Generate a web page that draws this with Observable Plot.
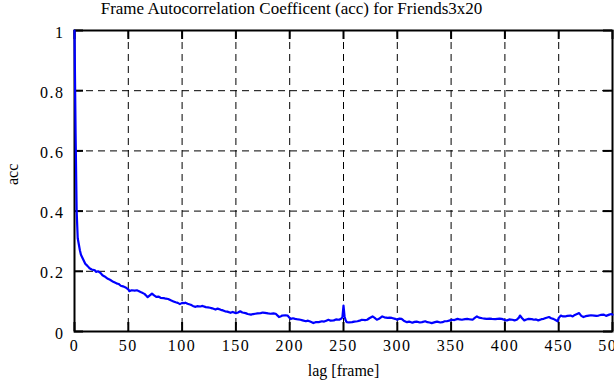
<!DOCTYPE html>
<html><head><meta charset="utf-8">
<script src="https://cdn.jsdelivr.net/npm/d3@7"></script>
<script src="https://cdn.jsdelivr.net/npm/@observablehq/plot@0.6"></script>
<style>
body{margin:0;background:#fff}
#chart svg{font-family:"Liberation Serif",serif}
#chart g[aria-label="x-axis tick label"] text,#chart g[aria-label="y-axis tick label"] text{letter-spacing:1.5px}
</style>
</head><body><div id="chart"></div>
<script>
const title = "Frame Autocorrelation Coefficent (acc) for Friends3x20";
const xLabel = "lag [frame]";
const yLabel = "acc";
const xTicks = [0,50,100,150,200,250,300,350,400,450,500];
const yTicks = [0,0.2,0.4,0.6,0.8,1];
const yTickLabels = ["0","0.2","0.4","0.6","0.8","1"];

const lags = [0,1,2,3,4,5,6,8,10,12,14,16,19,20,22,24,26,28,31,33,36,39,41,43,45,48,50,51,53,56,58,60,62,65,67,68,70,72,74,76,78,80,83,85,87,90,92,94,96,98,
100,102,103,105,108,110,112,114,117,119,122,124,126,128,131,133,136,138,140,142,145,147,150,152,154,156,159,161,164,166,168,170,173,175,177,180,182,185,187,189,190,192,193,196,198,
200,201,203,205,208,210,212,215,217,219,221,222,224,227,230,232,234,236,238,241,243,246,248,249,250,251,252,253,255,258,260,263,265,267,270,272,274,277,279,281,283,286,288,291,293,295,298,
300,302,304,306,309,311,314,316,318,321,323,326,328,330,332,335,337,340,342,344,346,349,351,353,356,358,360,363,365,368,370,372,374,376,379,381,383,386,388,391,393,395,397,
400,402,404,407,409,411,413,414,416,418,420,422,425,427,429,431,434,436,438,441,443,445,447,449,450,452,454,456,458,461,463,465,467,469,471,473,475,478,480,483,485,487,489,492,494,497,499,500];
const acc = [1.0,0.66,0.40,0.31,0.29,0.27,0.255,0.24,0.225,0.218,0.21,0.206,0.203,0.198,0.2,0.195,0.187,0.183,0.175,0.172,0.165,0.16,0.158,0.152,0.15,0.145,0.14,0.134,0.137,0.136,0.137,0.134,0.13,0.125,0.118,0.114,0.12,0.126,0.12,0.115,0.116,0.112,0.111,0.109,0.108,0.103,0.1,0.097,0.095,0.091,
0.095,0.094,0.096,0.092,0.089,0.085,0.082,0.084,0.083,0.085,0.081,0.08,0.079,0.077,0.073,0.076,0.072,0.07,0.067,0.066,0.062,0.065,0.061,0.063,0.067,0.063,0.061,0.058,0.056,0.058,0.059,0.06,0.061,0.063,0.062,0.06,0.059,0.06,0.059,0.052,0.048,0.051,0.053,0.054,0.053,
0.045,0.042,0.044,0.042,0.04,0.039,0.037,0.034,0.036,0.033,0.03,0.028,0.031,0.031,0.034,0.033,0.036,0.039,0.036,0.037,0.04,0.039,0.043,0.048,0.086,0.05,0.037,0.031,0.03,0.031,0.033,0.034,0.036,0.039,0.038,0.039,0.044,0.05,0.045,0.039,0.042,0.05,0.047,0.045,0.046,0.045,0.042,
0.039,0.043,0.042,0.036,0.031,0.033,0.029,0.032,0.033,0.03,0.031,0.034,0.031,0.03,0.028,0.031,0.033,0.03,0.031,0.034,0.034,0.037,0.039,0.038,0.042,0.04,0.039,0.041,0.042,0.04,0.039,0.045,0.05,0.046,0.044,0.043,0.042,0.043,0.042,0.041,0.042,0.043,0.042,
0.038,0.037,0.04,0.039,0.037,0.039,0.046,0.053,0.044,0.037,0.04,0.042,0.041,0.039,0.04,0.037,0.041,0.042,0.045,0.048,0.044,0.042,0.038,0.034,0.045,0.053,0.05,0.05,0.052,0.053,0.05,0.055,0.058,0.061,0.052,0.048,0.051,0.053,0.054,0.053,0.052,0.053,0.055,0.056,0.052,0.056,0.058,0.056];

const data = lags.map((l, i) => ({lag: l, acc: acc[i]}));
const xGrid = xTicks.slice(1, -1);
const yGrid = yTicks.slice(1, -1);
const W = 614, H = 385, mL = 74, mR = 2, mT = 30, mB = 54;
const innerW = W - mL - mR, innerH = H - mT - mB, tickLen = 9;

const chart = Plot.plot({
  width: W, height: H,
  marginLeft: mL, marginRight: mR, marginTop: mT, marginBottom: mB,
  style: {fontFamily: "Liberation Serif, serif", fontSize: "16px", background: "#fff", color: "#000", overflow: "visible"},
  x: {domain: [0, 500]},
  y: {domain: [0, 1]},
  marks: [
    Plot.ruleX(xGrid, {stroke: "#000", strokeWidth: 1, strokeDasharray: "7,5"}),
    Plot.ruleY(yGrid, {stroke: "#000", strokeWidth: 1, strokeDasharray: "7,5"}),
    Plot.tickX(xTicks, {x: d => d, stroke: "#000", strokeWidth: 2, insetTop: innerH - tickLen}),
    Plot.tickX(xTicks, {x: d => d, stroke: "#000", strokeWidth: 2, insetBottom: innerH - tickLen}),
    Plot.tickY(yTicks, {y: d => d, stroke: "#000", strokeWidth: 2, insetRight: innerW - tickLen}),
    Plot.tickY(yTicks, {y: d => d, stroke: "#000", strokeWidth: 2, insetLeft: innerW - tickLen}),
    Plot.frame({stroke: "#000", strokeWidth: 2}),
    Plot.line(data, {x: "lag", y: "acc", stroke: "#0000ff", strokeWidth: 2.2}),
    Plot.axisX(xTicks, {tickSize: 0, tickPadding: 8, fontSize: 16, label: null, tickFormat: d => String(d)}),
    Plot.axisY(yTicks, {tickSize: 0, tickPadding: 10, fontSize: 16, dy: 2, label: null, tickFormat: (d, i) => yTickLabels[i]}),
    Plot.text([title], {frameAnchor: "top", dx: -52, dy: -22, fontSize: 17, lineAnchor: "middle"}),
    Plot.text([xLabel], {frameAnchor: "bottom", dy: 39, fontSize: 16, lineAnchor: "middle"}),
    Plot.text([yLabel], {frameAnchor: "left", dx: -62, dy: 4, fontSize: 16, rotate: -90, lineAnchor: "middle"})
  ]
});
document.getElementById("chart").appendChild(chart);
</script>
</body></html>
